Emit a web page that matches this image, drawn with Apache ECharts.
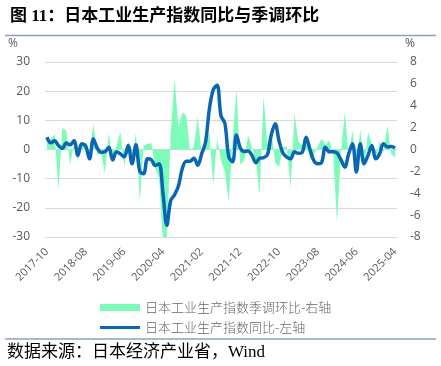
<!DOCTYPE html>
<html>
<head>
<meta charset="utf-8">
<script src="https://cdn.jsdelivr.net/npm/echarts@6/dist/echarts.min.js"></script>
<style>
html,body{margin:0;padding:0;background:#fff;}
#c{width:441px;height:366px;}
</style>
</head>
<body>
<div id="c"></div>
<script>
var months = [
'2017-10','2017-11','2017-12',
'2018-01','2018-02','2018-03','2018-04','2018-05','2018-06','2018-07','2018-08','2018-09','2018-10','2018-11','2018-12',
'2019-01','2019-02','2019-03','2019-04','2019-05','2019-06','2019-07','2019-08','2019-09','2019-10','2019-11','2019-12',
'2020-01','2020-02','2020-03','2020-04','2020-05','2020-06','2020-07','2020-08','2020-09','2020-10','2020-11','2020-12',
'2021-01','2021-02','2021-03','2021-04','2021-05','2021-06','2021-07','2021-08','2021-09','2021-10','2021-11','2021-12',
'2022-01','2022-02','2022-03','2022-04','2022-05','2022-06','2022-07','2022-08','2022-09','2022-10','2022-11','2022-12',
'2023-01','2023-02','2023-03','2023-04','2023-05','2023-06','2023-07','2023-08','2023-09','2023-10','2023-11','2023-12',
'2024-01','2024-02','2024-03','2024-04','2024-05','2024-06','2024-07','2024-08','2024-09','2024-10','2024-11','2024-12',
'2025-01','2025-02','2025-03','2025-04'
];

// 日本工业生产指数同比（%，左轴）
var yoy = [
4.2, 2.3, 3.0,
1.3, 0.4, 2.2, 1.6, 3.0, -2.0, 2.0, 1.2, -3.2, 3.6, 0.5, -1.0,
-0.8, 0.8, -3.6, -0.8, -1.5, -2.5, 1.4, -4.9, 1.6, -7.5, -8.3, -3.2,
-3.5, -5.5, -4.9, -15.0, -26.0, -17.5, -15.5, -12.5, -6.5, -4.0, -4.0, -3.0,
-5.4, -1.5, 2.5, 14.0, 20.5, 22.0, 11.5, 9.0, -2.5, -4.2, 5.0, 0.5,
-0.7, -0.5, -2.0, -4.5, -3.0, -2.8, -1.8, 5.0, 8.8, 3.0, -1.2, -2.6,
-3.2, -0.8, -1.3, -1.0, 4.2, 0.0, -3.8, -4.9, -4.5, 0.8, -0.8, -0.8,
-1.2, -3.5, -6.0, -1.5, 2.0, -7.7, 2.0, -4.9, -2.0, 1.4, -3.2, -1.5,
2.0, 0.9, 1.0, 0.5
];

// 日本工业生产指数季调环比（%，右轴）
var mom = [
0.6, 1.0, 1.4,
-3.7, 2.0, 1.7, -1.4, 0.5, -1.0, 0.4, 0.3, -0.5, 2.4, -0.6, -0.2,
-2.2, 1.5, -1.1, 0.4, 1.6, -1.6, 0.8, -1.0, 1.5, -4.7, 0.4, 0.5,
0.6, -1.7, -2.6, -8.6, -8.6, 1.5, 6.45, 2.05, 3.4, 3.1, -0.2, 0.3,
3.0, -0.4, 1.0, 1.5, -3.3, 1.0, -1.0, -2.0, -4.8, 0.8, 5.5, -1.4,
-1.0, 1.3, 0.2, -1.0, -4.1, 4.9, 0.5, 1.8, -1.2, -1.6, 0.2, 0.3,
-3.5, 3.3, 0.7, 0.4, 0.9, -0.9, -0.5, 0.3, 1.0, 0.4, 0.85, -0.4,
-6.7, -0.3, 3.4, -0.5, 1.75, -1.7, 1.9, -1.9, 1.6, 0.5, -1.0, 0.8,
-0.3, 2.2, -0.4, -0.7
];

var leftTicks = {min: -30, max: 30, interval: 10};
var rightTicks = {min: -8, max: 8, interval: 2};

var nameMom = '日本工业生产指数季调环比-右轴';
var nameYoy = '日本工业生产指数同比-左轴';

var GREEN = '#7DFBB8';
var BLUE = '#0A66B2';
var GRAY = '#595959';
var CJK = '"Noto Sans CJK SC", "Open Sans", sans-serif';
var NUM = '"Open Sans", "Noto Sans CJK SC", sans-serif';
var SERIF = '"Liberation Serif", "Noto Sans CJK SC", serif';

var chart = echarts.init(document.getElementById('c'), null, {renderer: 'canvas'});
chart.setOption({
  animation: false,
  backgroundColor: '#fff',
  title: {
    text: '图 11：日本工业生产指数同比与季调环比',
    left: 5, top: 3,
    textStyle: {fontSize: 17, fontWeight: 'bold', color: '#000', fontFamily: SERIF}
  },
  graphic: [
    {type: 'line', shape: {x1: 5, y1: 35.5, x2: 436, y2: 35.5}, style: {stroke: '#8EA0B8', lineWidth: 1.3}},
    {type: 'line', shape: {x1: 5, y1: 339, x2: 436, y2: 339}, style: {stroke: '#8EA0B8', lineWidth: 1.3}},
    {type: 'text', left: 7, top: 344, style: {text: '数据来源：日本经济产业省，Wind', fontSize: 17, fontFamily: SERIF, fill: '#000'}}
  ],
  legend: {
    orient: 'vertical',
    left: 95, top: 296,
    itemWidth: 40, itemHeight: 7, itemGap: 7,
    textStyle: {fontSize: 13, color: '#666666', fontWeight: 300, fontFamily: CJK},
    data: [
      {name: nameMom, icon: 'rect'},
      {name: nameYoy, icon: 'path://M0,0L40,0L40,3L0,3Z'}
    ]
  },
  grid: {left: 45, right: 44, top: 62, bottom: 129, containLabel: false},
  xAxis: {
    type: 'category',
    data: months,
    boundaryGap: true,
    axisLine: {show: false},
    axisTick: {show: false},
    axisLabel: {rotate: 45, interval: 9, fontSize: 11, color: GRAY, margin: 13, fontFamily: NUM}
  },
  yAxis: [
    {
      type: 'value', min: leftTicks.min, max: leftTicks.max, interval: leftTicks.interval,
      name: '%', nameLocation: 'end', nameGap: 12,
      nameTextStyle: {color: GRAY, fontSize: 12, align: 'right', padding: [0, 27, 0, 0], fontFamily: NUM},
      axisLine: {show: false}, axisTick: {show: false},
      axisLabel: {fontSize: 12, color: GRAY, margin: 15, fontFamily: NUM},
      splitLine: {show: true, lineStyle: {color: '#D9D9D9', width: 1}}
    },
    {
      type: 'value', min: rightTicks.min, max: rightTicks.max, interval: rightTicks.interval,
      name: '%', nameLocation: 'end', nameGap: 12,
      nameTextStyle: {color: GRAY, fontSize: 12, align: 'left', padding: [0, 0, 0, 8], fontFamily: NUM},
      axisLine: {show: false}, axisTick: {show: false},
      axisLabel: {fontSize: 12, color: GRAY, margin: 13, fontFamily: NUM},
      splitLine: {show: false}
    }
  ],
  series: [
    {
      name: nameMom, type: 'line', yAxisIndex: 1, data: mom,
      symbol: 'none', smooth: false, clip: true,
      lineStyle: {width: 0, color: GREEN},
      itemStyle: {color: GREEN},
      areaStyle: {color: GREEN, opacity: 1},
      z: 1
    },
    {
      name: nameYoy, type: 'line', yAxisIndex: 0, data: yoy,
      symbol: 'none', smooth: 0.35,
      lineStyle: {width: 3.5, color: BLUE},
      itemStyle: {color: BLUE},
      z: 3
    }
  ]
});
</script>
</body>
</html>
